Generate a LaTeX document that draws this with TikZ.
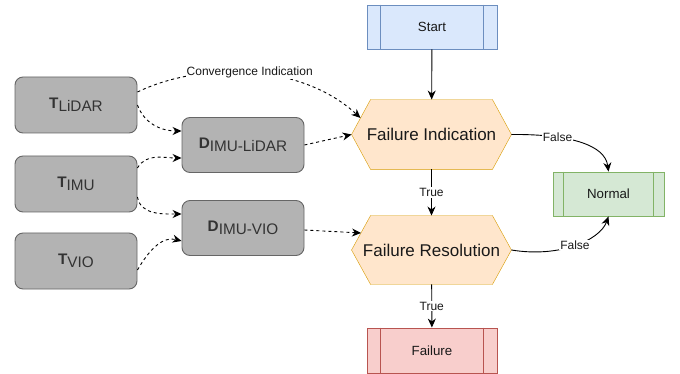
\documentclass[tikz,border=0pt]{standalone}
\usepackage{fontspec}
\setmainfont{Liberation Sans}
\usetikzlibrary{arrows.meta,backgrounds}
\definecolor{startfill}{HTML}{DAE8FC}
\definecolor{startline}{HTML}{6C8EBF}
\definecolor{hexfill}{HTML}{FFE6CC}
\definecolor{hexline}{HTML}{D79B00}
\definecolor{normfill}{HTML}{D5E8D4}
\definecolor{normline}{HTML}{82B366}
\definecolor{failfill}{HTML}{F8CECC}
\definecolor{failline}{HTML}{B85450}
\definecolor{boxfill}{HTML}{B3B3B3}
\definecolor{boxline}{HTML}{666666}
\newcommand{\fsz}[1]{\fontsize{#1}{#1}\selectfont}
\newcommand{\sublbl}[2]{{\bfseries #1}\raisebox{-3pt}{#2}}

\begin{document}
\begin{tikzpicture}[x=1pt,y=-1pt,line width=0.9pt,
  proc/.style={draw,inner sep=0pt,minimum width=130pt,minimum height=44pt,text=black!90,font=\fsz{13.3}},
  greybox/.style={draw=boxline,fill=boxfill,rounded corners=8pt,inner sep=0pt,
    minimum width=122pt,minimum height=56pt,text=black!80,font=\fsz{15.3}},
  hexbox/.style={inner sep=0pt,minimum width=159pt,minimum height=69pt,text=black!90,font=\fsz{17}},
  lbl/.style={fill=white,inner sep=1pt,text=black!90,font=\fsz{12}},
  flow/.style={-{Stealth[length=9pt,width=8pt]}},
  dflow/.style={flow,dash pattern=on 3pt off 3pt}]
  \useasboundingbox (0,0) rectangle (680,374);

  % flow chart on the right
  \node[proc,draw=startline,fill=startfill] (start) at (432,27) {Start};
  \node[hexbox] (fi) at (431.5,134.5) {Failure Indication};
  \node[hexbox,minimum height=68pt] (fr) at (431.5,250) {Failure Resolution};
  \node[proc,draw=normline,fill=normfill,minimum width=111pt] (normal) at (608.5,194) {Normal};
  \node[proc,draw=failline,fill=failfill,minimum height=45pt] (fail) at (432,350.5) {Failure};
  \foreach \n/\d/\c in {start/14/startline,fail/14/failline,normal/11/normline}{
    \draw[\c] ([xshift=\d]\n.north west) -- ([xshift=\d]\n.south west);
    \draw[\c] ([xshift=-\d]\n.north east) -- ([xshift=-\d]\n.south east);
  }
  \begin{scope}[on background layer]
    \foreach \n in {fi,fr}
      \draw[draw=hexline,fill=hexfill] (\n.west) -- ([xshift=19]\n.north west) -- ([xshift=-19]\n.north east)
        -- (\n.east) -- ([xshift=-19]\n.south east) -- ([xshift=19]\n.south west) -- cycle;
  \end{scope}

  % sources on the left
  \node[greybox] (tlidar) at (76,105) {\sublbl{T}{LiDAR}};
  \node[greybox] (timu) at (76,184) {\sublbl{T}{IMU}};
  \node[greybox] (tvio) at (76,261) {\sublbl{T}{VIO}};
  \node[greybox,minimum height=55pt] (dlidar) at (243,145) {\sublbl{D}{IMU-LiDAR}};
  \node[greybox,minimum height=55pt] (dvio) at (243,228) {\sublbl{D}{IMU-VIO}};
  \coordinate (fiin) at (360.5,118);
  \coordinate (frin) at (361,233);

  % edges
  \draw[flow] (start) -- (fi);
  \draw[flow] (fi) -- node[lbl] {True} (fr);
  \draw[flow] (fr) -- node[lbl] {True} (fail);
  \draw[flow] (fi.east) .. controls (570,134) and (605,145) .. node[lbl,pos=0.3] {False} (normal.north);
  \draw[flow] (fr.east) .. controls (560,258) and (600,240) .. node[lbl] {False} (normal.south);

  \draw[dflow] ([yshift=13]tlidar.east) .. controls (200,62) and (300,62) .. node[lbl] {Convergence Indication} (fiin);
  \draw[dflow] (tlidar.east) to[out=-70,in=180] ([yshift=14]dlidar.west);
  \draw[dflow] ([yshift=16]timu.west -| timu.east) to[out=60,in=180] ([yshift=-13]dlidar.west);
  \draw[dflow] ([yshift=-13]timu.east) to[out=-80,in=180] ([yshift=14]dvio.west);
  \draw[dflow] ([yshift=-9]tvio.east) to[out=60,in=165] ([yshift=-13]dvio.west);
  \draw[dflow] (dlidar.east) -- (fi.west);
  \draw[dflow] ([yshift=-2]dvio.east) -- (frin);
\end{tikzpicture}
\end{document}
